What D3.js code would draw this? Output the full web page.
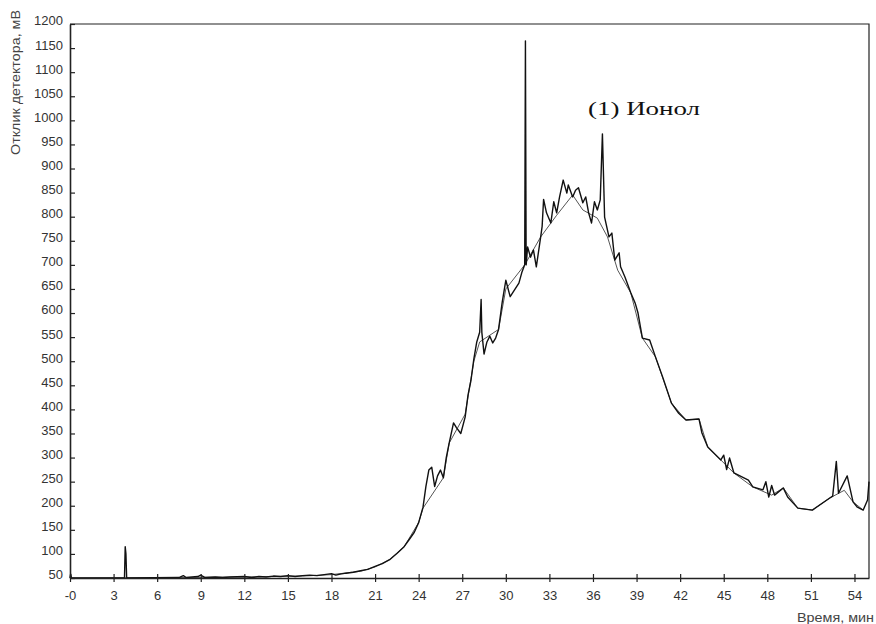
<!DOCTYPE html>
<html>
<head>
<meta charset="utf-8">
<script src="https://cdn.jsdelivr.net/npm/d3@7"></script>
<style>
  body { margin: 0; background: #fff; }
  svg { display: block; }
</style>
</head>
<body>
<div id="chart"></div>
<script>
// chromatogram signal: time (min) and detector response (mV)
const times = [0, 0.05, 0.1, 3.75, 3.8, 3.85, 3.9, 7.5, 7.8, 8.0, 8.8, 9.0, 9.3, 10, 10.5, 11, 12, 12.5, 13, 13.5,
  14, 14.5, 15, 15.5, 16, 16.5, 17, 17.5, 18, 18.3, 18.6, 19, 19.5, 20, 20.5, 21, 21.5, 22, 22.5, 23,
  23.4, 23.7, 24.0, 24.3, 24.5, 24.7, 24.9, 25.1, 25.3, 25.5, 25.7, 25.9, 26.1, 26.4, 26.6, 26.9, 27.2, 27.4, 27.6, 27.8,
  28.0, 28.2, 28.3, 28.35, 28.5, 28.7, 28.9, 29.1, 29.3, 29.5, 29.75, 30.0, 30.3, 30.6, 30.9, 31.1, 31.3, 31.35, 31.4, 31.5,
  31.7, 31.9, 32.1, 32.4, 32.5, 32.6, 32.8, 33.1, 33.3, 33.5, 33.7, 33.95, 34.2, 34.3, 34.6, 34.8, 35.0, 35.3, 35.5, 35.7,
  35.9, 36.1, 36.3, 36.5, 36.65, 36.8, 37.1, 37.3, 37.5, 37.8, 37.9, 38.2, 38.6, 38.9, 39.1, 39.4, 39.9, 40.3, 40.8, 41.1,
  41.4, 41.9, 42.4, 43.3, 43.5, 43.9, 44.8, 45.0, 45.2, 45.4, 45.7, 46.7, 47.0, 47.7, 47.9, 48.1, 48.3, 48.5, 49.1, 49.4,
  50.1, 51.1, 52.3, 52.5, 52.75, 52.9, 53.5, 53.9, 54.2, 54.6, 54.9, 55.0];
const signal = [50, 58, 50, 50, 115, 100, 50, 51, 55, 51, 53, 56, 51, 52, 51, 52, 53, 51, 53, 52,
  54, 53, 55, 53, 55, 56, 55, 57, 59, 56, 58, 60, 62, 65, 68, 74, 80, 88, 101, 115,
  132, 145, 165, 197, 240, 274, 280, 240, 262, 274, 258, 300, 330, 372, 362, 350, 384, 430, 460, 505,
  540, 560, 628, 560, 515, 540, 552, 538, 548, 566, 622, 668, 634, 648, 662, 684, 700, 1165, 700, 737,
  716, 731, 696, 758, 780, 836, 808, 787, 831, 808, 841, 876, 849, 866, 841, 855, 860, 829, 841, 808,
  787, 831, 814, 835, 972, 799, 758, 766, 710, 725, 696, 675, 642, 621, 600, 548, 544, 509, 467, 440,
  413, 392, 378, 380, 351, 322, 295, 305, 275, 299, 268, 253, 239, 233, 250, 218, 242, 222, 237, 218,
  195, 191, 216, 220, 292, 226, 262, 208, 197, 191, 212, 250];

// smoothed lower trace drawn under the signal
const baseTimes = [0, 8, 12, 16, 18, 20, 21, 22, 23, 24, 24.3, 25.7, 26.1, 27.2, 27.8, 28.2, 29.5, 30.0, 31.3, 32.4,
  33.5, 34.6, 35.3, 36.3, 37.0, 37.7, 38.6, 39.4, 40.3, 41.4, 42.4, 43.3, 43.9, 44.8, 45.7, 47.0, 48.3, 49.1, 50.1, 51.1,
  52.3, 53.3, 53.9, 54.6];
const baseline = [50, 51, 52, 54, 57, 64, 73, 88, 115, 165, 195, 258, 330, 390, 500, 540, 566, 650, 700, 758,
  803, 845, 814, 797, 758, 689, 642, 548, 509, 413, 378, 380, 322, 295, 268, 239, 222, 237, 195, 191,
  216, 232, 208, 191];

const xTicks = [0, 3, 6, 9, 12, 15, 18, 21, 24, 27, 30, 33, 36, 39, 42, 45, 48, 51, 54];
const yTicks = [50, 100, 150, 200, 250, 300, 350, 400, 450, 500, 550, 600, 650, 700, 750, 800, 850, 900, 950, 1000, 1050, 1100, 1150, 1200];

const width = 876;
const height = 624;

const svg = d3.select("#chart")
    .append("svg")
    .attr("width", width)
    .attr("height", height)
    .style("font-family", "'Liberation Sans', Arial, sans-serif");

const x = d3.scaleLinear().domain([0, 55]).range([70, 869]);
const y = d3.scaleLinear().domain([50, 1200]).range([578, 24]);

// frame: top and right edges
svg.append("path")
    .attr("d", `M${x(0)},${y(1200)}H${x(55)}V${y(50)}`)
    .attr("fill", "none")
    .attr("stroke", "#222")
    .attr("stroke-width", 1.2);

// Draw traces
const line = d3.line().x(d => x(d[0])).y(d => y(d[1]));

svg.append("path")
    .datum(d3.zip(baseTimes, baseline))
    .attr("d", line)
    .attr("fill", "none")
    .attr("stroke", "#555")
    .attr("stroke-width", 1);

svg.append("path")
    .datum(d3.zip(times, signal))
    .attr("d", line)
    .attr("fill", "none")
    .attr("stroke", "#111")
    .attr("stroke-width", 1.4)
    .attr("stroke-linejoin", "round");

// Axes
const yAxis = svg.append("g")
    .attr("transform", `translate(${x(0)},0)`)
    .call(d3.axisLeft(y).tickValues(yTicks).tickSizeInner(-5).tickSizeOuter(0).tickPadding(7)
        .tickFormat(d3.format("d")));

yAxis.selectAll("text")
    .attr("dy", "0.07em")
    .attr("font-size", 13)
    .attr("fill", "#333");

const xAxis = svg.append("g")
    .attr("transform", `translate(0,${y(50)})`)
    .call(d3.axisBottom(x).tickValues(xTicks).tickSizeInner(4).tickSizeOuter(0).tickPadding(9)
        .tickFormat(d => d === 0 ? "-0" : d));

xAxis.selectAll(".tick line").attr("y1", -4);
xAxis.selectAll("text")
    .attr("font-size", 13)
    .attr("fill", "#333");

[yAxis, xAxis].forEach(a => {
    a.selectAll("line").attr("stroke", "#222").attr("stroke-width", 1.2);
    a.select(".domain").attr("stroke", "#222").attr("stroke-width", 1.6);
});

// Axis titles
svg.append("text")
    .attr("transform", "translate(20,155) rotate(-90)")
    .attr("font-size", 12)
    .attr("textLength", 145)
    .attr("lengthAdjust", "spacingAndGlyphs")
    .attr("fill", "#444")
    .text("Отклик детектора, мВ");

svg.append("text")
    .attr("x", 797)
    .attr("y", 622)
    .attr("font-size", 12)
    .attr("textLength", 77)
    .attr("lengthAdjust", "spacingAndGlyphs")
    .attr("fill", "#444")
    .text("Время, мин");

// Peak annotation
svg.append("text")
    .attr("x", 588)
    .attr("y", 115)
    .attr("font-family", "'Liberation Serif', 'Times New Roman', serif")
    .attr("font-size", 19)
    .attr("textLength", 112)
    .attr("lengthAdjust", "spacingAndGlyphs")
    .attr("fill", "#111")
    .text("(1) Ионол");
</script>
</body>
</html>
